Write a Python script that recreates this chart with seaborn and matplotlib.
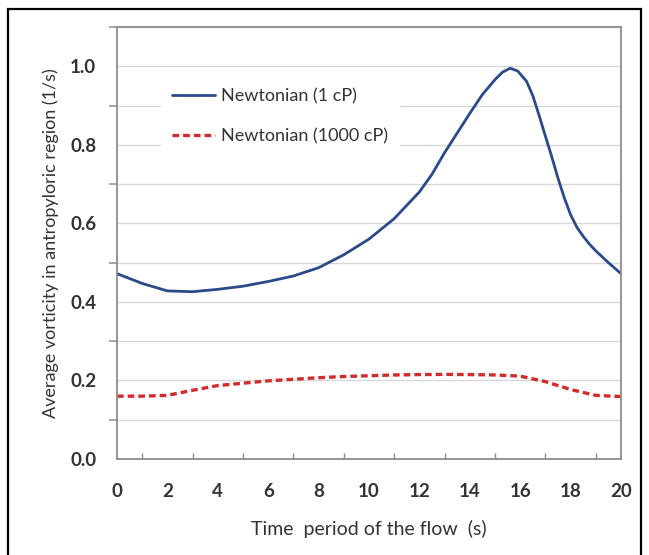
import matplotlib
matplotlib.use("Agg")
import matplotlib.pyplot as plt
import seaborn as sns
import pandas as pd
from matplotlib.patches import Rectangle
from matplotlib.ticker import MultipleLocator

# values
t_1cp = [0, 1, 2, 3, 4, 5, 6, 7, 8, 9, 10, 11, 12, 12.5, 13, 13.5, 14, 14.5,
         15, 15.3, 15.6, 15.9, 16.25, 16.5, 16.75, 17, 17.25, 17.5, 17.75,
         18, 18.25, 18.5, 18.75, 19, 19.5, 20]
w_1cp = [0.472, 0.447, 0.428, 0.426, 0.432, 0.440, 0.452, 0.466, 0.487, 0.520,
         0.560, 0.612, 0.680, 0.725, 0.780, 0.830, 0.880, 0.928,
         0.966, 0.985, 0.995, 0.988, 0.962, 0.925, 0.875, 0.822, 0.770,
         0.715, 0.665, 0.622, 0.590, 0.567, 0.547, 0.530, 0.500, 0.472]

t_1000cp = [0, 1, 2, 3, 4, 5, 6, 7, 8, 9, 10, 11, 12, 13, 14, 15, 16, 17,
            18, 19, 20]
w_1000cp = [0.160, 0.160, 0.162, 0.175, 0.187, 0.193, 0.199, 0.203, 0.207,
            0.210, 0.212, 0.214, 0.215, 0.2155, 0.215, 0.214, 0.211, 0.197,
            0.177, 0.162, 0.159]

df1 = pd.DataFrame({"t": t_1cp, "w": w_1cp})
df2 = pd.DataFrame({"t": t_1000cp, "w": w_1000cp})

sns.set_style("white")
plt.rcParams["font.family"] = ["Lato", "DejaVu Sans"]

fig = plt.figure(figsize=(6.49, 5.55), dpi=100)
ax = fig.add_axes([117 / 649, 1 - 459 / 555, 504 / 649, 432 / 555])

# outer frame around the whole figure
fig.patches.append(Rectangle((8 / 649, -0.02), 633 / 649, 1 - 9 / 555 + 0.02,
                             transform=fig.transFigure, fill=False,
                             edgecolor="black", linewidth=1.6))

sns.lineplot(data=df1, x="t", y="w", ax=ax, color="#2b4a8c", linewidth=2.0,
             label="Newtonian (1 cP)")
sns.lineplot(data=df2, x="t", y="w", ax=ax, color="#d42a2a", linewidth=2.4,
             linestyle=(0, (2.0, 1.2)), label="Newtonian (1000 cP)")

ax.set_xlim(0, 20)
ax.set_ylim(0, 1.1)
ax.xaxis.set_major_locator(MultipleLocator(2))
ax.xaxis.set_minor_locator(MultipleLocator(1))
ax.yaxis.set_major_locator(MultipleLocator(0.2))
ax.yaxis.set_minor_locator(MultipleLocator(0.1))
ax.set_yticks([0, 0.2, 0.4, 0.6, 0.8, 1.0])
ax.set_yticklabels(["0.0", "0.2", "0.4", "0.6", "0.8", "1.0"])
ax.grid(True, which="both", axis="y", color="#d8d8d8", linewidth=1.0)
ax.set_axisbelow(True)

for s in ax.spines.values():
    s.set_color("#8c8c8c")
    s.set_linewidth(1.3)

ax.tick_params(axis="x", which="major", direction="inout", length=9,
               width=1.1, color="#8c8c8c", labelsize=13.5, pad=13)
ax.tick_params(axis="x", which="minor", direction="in", length=4,
               width=1.0, color="#8c8c8c")
ax.tick_params(axis="y", which="both", direction="out", length=6,
               width=1.1, color="#8c8c8c", labelsize=13.5, pad=9)
ax.tick_params(axis="x", which="minor", bottom=True)
ax.tick_params(axis="y", which="minor", left=True)
for lab in ax.get_xticklabels() + ax.get_yticklabels():
    lab.set_fontweight("bold")
    lab.set_color("#333333")

ax.set_xlabel("Time  period of the flow  (s)", fontsize=14, color="#333333",
              labelpad=14)
ax.set_ylabel("Average vorticity in antropyloric region (1/s)", fontsize=13,
              color="#333333", labelpad=8)

leg = ax.legend(loc="upper left", bbox_to_anchor=(0.07, 0.905), frameon=True,
                facecolor="white", edgecolor="white", framealpha=1,
                fontsize=13, handlelength=2.4, handletextpad=0.3,
                labelspacing=1.33, borderpad=0.6)
for txt in leg.get_texts():
    txt.set_color("#333333")

fig.savefig("out.png", dpi=100)
